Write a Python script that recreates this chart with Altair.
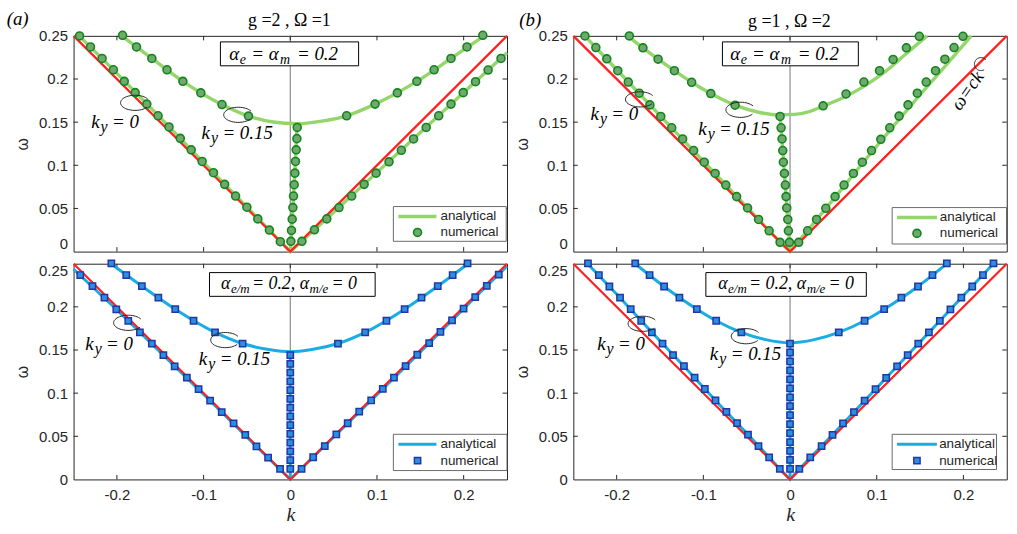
import math
import altair as alt
import pandas as pd

# ---------------------------------------------------------------- layout / style
PW, PH = 436, 217
INK = "#262626"
RED = "#ff2020"
ZERO_LINE = "#8c8c8c"
SERIF = "Liberation Serif"
SANS = "Liberation Sans"

K_TICKS = [-0.2, -0.1, 0.0, 0.1, 0.2]
W_TICKS = [0.0, 0.05, 0.10, 0.15, 0.20, 0.25]

# light cone  omega = c|k|
CONE_K = [-0.25, 0.0, 0.25]
CONE_W = [0.25, 0.0, 0.25]

# ---------------------------------------------------------------- (a) top: g=2, Omega=1, alpha_e = alpha_m = 0.2
A1_NUM0_K = [-0.2431, -0.2305, -0.2171, -0.2041, -0.1915, -0.1789, -0.1655, -0.1525, -0.1399, -0.1269,
             -0.1143, -0.1017, -0.0886, -0.0757, -0.0631, -0.0501, -0.0375, -0.0241, -0.0115,
             0.0134, 0.0279, 0.0421, 0.0562, 0.0708, 0.0852, 0.0990, 0.1139, 0.1281, 0.1422,
             0.1568, 0.1712, 0.1854, 0.1995, 0.2137, 0.2282, 0.2431]
A1_NUM0_W = [0.2499, 0.2372, 0.2238, 0.2107, 0.1973, 0.1842, 0.1709, 0.1574, 0.1444, 0.1312,
             0.1179, 0.1044, 0.0914, 0.0779, 0.0644, 0.0514, 0.0379, 0.0249, 0.0114,
             0.0119, 0.0252, 0.0379, 0.0510, 0.0644, 0.0779, 0.0909, 0.1040, 0.1174, 0.1305,
             0.1439, 0.1574, 0.1709, 0.1842, 0.1969, 0.2104, 0.2238]
A1_NUM15_K = [-0.1935, -0.1774, -0.1597, -0.1422, -0.1239, -0.1032, -0.0788, -0.0482,
              0.0650, 0.0978, 0.1235, 0.1460, 0.1659, 0.1854, 0.2038, 0.2221,
              0.0007, 0.0014, 0.0022, 0.0030, 0.0037, 0.0045, 0.0053, 0.0060, 0.0068, 0.0076, 0.0080]
A1_NUM15_W = [0.2507, 0.2372, 0.2238, 0.2107, 0.1973, 0.1839, 0.1704, 0.1570,
              0.1574, 0.1709, 0.1839, 0.1973, 0.2107, 0.2238, 0.2372, 0.2507,
              0.0119, 0.0245, 0.0376, 0.0510, 0.0644, 0.0775, 0.0909, 0.1044, 0.1179, 0.1309, 0.1439]
A1_ANA0_K = [-0.2435, -0.20, -0.15, -0.10, -0.05, -0.02, 0.0, 0.05, 0.10, 0.15, 0.20, 0.25]
A1_ANA0_W = [0.25, 0.2065, 0.1552, 0.1030, 0.0515, 0.0205, 0.0, 0.0455, 0.0918, 0.1380, 0.1843, 0.2305]
A1_ANA15_K = [-0.1945, -0.1597, -0.1239, -0.0788, -0.0482, -0.020, 0.008, 0.040, 0.065, 0.0978, 0.1460, 0.1854, 0.2235]
A1_ANA15_W = [0.25, 0.2238, 0.1973, 0.1704, 0.1570, 0.1502, 0.1482, 0.1518, 0.1574, 0.1709, 0.1973, 0.2238, 0.25]
A1_LOW_K = [0.0, 0.0007, 0.0045, 0.0080]
A1_LOW_W = [0.0, 0.0119, 0.0775, 0.1482]

# ---------------------------------------------------------------- (b) top: g=1, Omega=2, alpha_e = alpha_m = 0.2
B1_NUM0_K = [-0.2366, -0.2240, -0.2114, -0.1987, -0.1866, -0.1740, -0.1617, -0.1491, -0.1365, -0.1239,
             -0.1112, -0.0990, -0.0864, -0.0741, -0.0616, -0.0490, -0.0363, -0.0241, -0.0115,
             0.0100, 0.0203, 0.0306, 0.0413, 0.0520, 0.0623, 0.0731, 0.0834, 0.0940, 0.1047,
             0.1150, 0.1258, 0.1361, 0.1468, 0.1571, 0.1678, 0.1786, 0.1892, 0.1995]
B1_NUM0_W = [0.2499, 0.2365, 0.2234, 0.2096, 0.1965, 0.1835, 0.1700, 0.1566, 0.1435, 0.1305,
             0.1171, 0.1036, 0.0906, 0.0771, 0.0637, 0.0506, 0.0372, 0.0241, 0.0107,
             0.0107, 0.0241, 0.0372, 0.0502, 0.0637, 0.0771, 0.0906, 0.1036, 0.1171, 0.1301,
             0.1435, 0.1570, 0.1700, 0.1835, 0.1965, 0.2096, 0.2230, 0.2365, 0.2495]
B1_NUM15_K = [-0.1854, -0.1697, -0.1522, -0.1334, -0.1135, -0.0914, -0.0634,
              0.0382, 0.0646, 0.0852, 0.1032, 0.1189, 0.1342, 0.1491,
              -0.0007, -0.0019, -0.0026, -0.0038, -0.0046, -0.0054, -0.0065, -0.0077,
              -0.0084, -0.0092, -0.0103, -0.0115]
B1_NUM15_W = [0.2499, 0.2361, 0.2230, 0.2096, 0.1962, 0.1831, 0.1697,
              0.1689, 0.1827, 0.1965, 0.2096, 0.2227, 0.2361, 0.2495,
              0.0107, 0.0241, 0.0372, 0.0506, 0.0637, 0.0771, 0.0906, 0.1036,
              0.1171, 0.1305, 0.1435, 0.1566]
B1_ANA0_K = [-0.2368, -0.1987, -0.1491, -0.0990, -0.0490, -0.0115, 0.0, 0.0200, 0.0525, 0.0845,
             0.1065, 0.1290, 0.1515, 0.1745, 0.2090]
B1_ANA0_W = [0.25, 0.2096, 0.1566, 0.1036, 0.0506, 0.0107, 0.0, 0.0241, 0.0637, 0.1036,
             0.1301, 0.1570, 0.1835, 0.2096, 0.25]
B1_ANA15_K = [-0.1875, -0.1697, -0.1522, -0.1334, -0.1135, -0.0914, -0.0634, -0.0350, -0.0120,
              0.0050, 0.0222, 0.0382, 0.0646, 0.0852, 0.1032, 0.1189, 0.1342, 0.1580]
B1_ANA15_W = [0.25, 0.2361, 0.2230, 0.2096, 0.1962, 0.1831, 0.1697, 0.1612, 0.1585,
              0.1590, 0.1623, 0.1686, 0.1800, 0.1915, 0.2035, 0.2160, 0.2295, 0.25]
B1_LOW_K = [-0.0005, -0.0007, -0.0046, -0.0084, -0.0115, -0.0120]
B1_LOW_W = [0.0, 0.0107, 0.0637, 0.1171, 0.1566, 0.1585]

# ---------------------------------------------------------------- (a) bottom: alpha_e/m = 0.2, alpha_m/e = 0
A2_NUM0_K = [-0.2423, -0.2282, -0.2144, -0.2007, -0.1869, -0.1735, -0.1597, -0.1464, -0.1334,
             -0.1193, -0.1058, -0.0925, -0.0791, -0.0654, -0.0519, -0.0390, -0.0256, -0.0118,
             0.0130, 0.0264, 0.0398, 0.0531, 0.0662, 0.0795, 0.0933, 0.1067, 0.1196,
             0.1330, 0.1465, 0.1602, 0.1732, 0.1866, 0.1999, 0.2133, 0.2267, 0.2405]
A2_NUM0_W = [0.2369, 0.2240, 0.2106, 0.1972, 0.1838, 0.1704, 0.1575, 0.1440, 0.1311,
             0.1181, 0.1047, 0.0913, 0.0780, 0.0649, 0.0516, 0.0382, 0.0252, 0.0122,
             0.0122, 0.0257, 0.0387, 0.0521, 0.0651, 0.0785, 0.0915, 0.1049, 0.1179,
             0.1314, 0.1445, 0.1579, 0.1709, 0.1844, 0.1979, 0.2113, 0.2243, 0.2374]
A2_NUM15_K = [-0.2064, -0.1892, -0.1712, -0.1522, -0.1327, -0.1116, -0.0868, -0.0550,
              0.0550, 0.0864, 0.1109, 0.1319, 0.1514, 0.1701, 0.1873, 0.2045,
              0.0, 0.0, 0.0, 0.0, 0.0, 0.0, 0.0, 0.0, 0.0, 0.0, 0.0, 0.0, 0.0, 0.0]
A2_NUM15_W = [0.2503, 0.2369, 0.2240, 0.2106, 0.1973, 0.1839, 0.1705, 0.1575,
              0.1575, 0.1705, 0.1839, 0.1973, 0.2106, 0.2240, 0.2369, 0.2503,
              0.0122, 0.0223, 0.0325, 0.0426, 0.0528, 0.0629, 0.0730, 0.0832,
              0.0933, 0.1035, 0.1136, 0.1237, 0.1339, 0.1440]
A2_ANA0_K = [-0.25, -0.2007, -0.1464, -0.0925, -0.0390, 0.0, 0.0531, 0.1067, 0.1602, 0.2133, 0.25]
A2_ANA0_W = [0.2436, 0.1972, 0.1440, 0.0913, 0.0382, 0.0, 0.0521, 0.1049, 0.1579, 0.2113, 0.2470]
A2_ANA15_K = [-0.2070, -0.1712, -0.1327, -0.0868, -0.0550, -0.0250, 0.0, 0.0250, 0.0550, 0.0864, 0.1319, 0.1701, 0.2050]
A2_ANA15_W = [0.25, 0.2240, 0.1973, 0.1705, 0.1575, 0.1505, 0.1479, 0.1505, 0.1575, 0.1705, 0.1973, 0.2240, 0.25]
A2_LOW_K = [0.0, 0.0]
A2_LOW_W = [0.0, 0.1479]

# ---------------------------------------------------------------- (b) bottom: alpha_e/m = 0.2, alpha_m/e = 0
B2_NUM0_K = [-0.2331, -0.2205, -0.2084, -0.1961, -0.1838, -0.1717, -0.1594, -0.1471, -0.1350, -0.1224,
             -0.1101, -0.0983, -0.0860, -0.0734, -0.0611, -0.0485, -0.0364, -0.0241, -0.0118,
             0.0107, 0.0233, 0.0364, 0.0490, 0.0611, 0.0737, 0.0860, 0.0986, 0.1109, 0.1235,
             0.1357, 0.1479, 0.1602, 0.1728, 0.1850, 0.1976, 0.2102, 0.2225, 0.2347]
B2_NUM0_W = [0.2503, 0.2369, 0.2236, 0.2106, 0.1973, 0.1839, 0.1705, 0.1575, 0.1441, 0.1312,
             0.1181, 0.1048, 0.0915, 0.0783, 0.0653, 0.0520, 0.0385, 0.0256, 0.0122,
             0.0122, 0.0256, 0.0385, 0.0516, 0.0649, 0.0780, 0.0913, 0.1047, 0.1177, 0.1311,
             0.1440, 0.1575, 0.1704, 0.1838, 0.1972, 0.2106, 0.2236, 0.2369, 0.2503]
B2_NUM15_K = [-0.1786, -0.1620, -0.1453, -0.1276, -0.1075, -0.0852, -0.0562,
              0.0562, 0.0860, 0.1086, 0.1284, 0.1476, 0.1643, 0.1809,
              0.0, 0.0, 0.0, 0.0, 0.0, 0.0, 0.0, 0.0, 0.0, 0.0, 0.0, 0.0, 0.0, 0.0, 0.0]
B2_NUM15_W = [0.2503, 0.2369, 0.2236, 0.2106, 0.1973, 0.1839, 0.1704,
              0.1704, 0.1839, 0.1973, 0.2106, 0.2236, 0.2369, 0.2503,
              0.0122, 0.0226, 0.0330, 0.0433, 0.0537, 0.0641, 0.0745, 0.0849,
              0.0952, 0.1056, 0.1160, 0.1264, 0.1367, 0.1471, 0.1575]
B2_ANA0_K = [-0.2335, -0.1961, -0.1594, -0.1224, -0.0860, -0.0485, -0.0118, 0.0, 0.0107, 0.0490,
             0.0860, 0.1235, 0.1602, 0.1976, 0.2345]
B2_ANA0_W = [0.25, 0.2106, 0.1705, 0.1312, 0.0915, 0.0520, 0.0122, 0.0, 0.0122, 0.0516,
             0.0913, 0.1311, 0.1704, 0.2106, 0.25]
B2_ANA15_K = [-0.1786, -0.1453, -0.1075, -0.0852, -0.0562, -0.0280, 0.0, 0.0280, 0.0562, 0.0860, 0.1086, 0.1476, 0.1809]
B2_ANA15_W = [0.25, 0.2236, 0.1973, 0.1839, 0.1704, 0.1620, 0.1583, 0.1620, 0.1704, 0.1839, 0.1973, 0.2236, 0.25]
B2_LOW_K = [0.0, 0.0]
B2_LOW_W = [0.0, 0.1583]

GREEN = dict(line="#94d56c", lw=3.4, fill="#6fa870", edge="#12861a", shape="circle", size=64, sw=1.6)
BLUE = dict(line="#19ade3", lw=3.0, fill="#2a90dc", edge="#2336a8", shape="square", size=40, sw=1.5)


def arc_path(ry, a0, a1, n=40):
    """Open elliptical loop drawn as a custom symbol (unit half-width)."""
    pts = []
    for j in range(n + 1):
        t = math.radians(a0 + (a1 - a0) * j / n)
        pts.append(f"{math.cos(t):.3f},{ry * math.sin(t):.3f}")
    return "M" + " L".join(pts)


LOOP = arc_path(0.52, 35, 330)
SMALL_LOOP = arc_path(1.0, 60, 320)


def series(k, w, name):
    return pd.DataFrame({"k": k, "w": w, "s": name, "i": range(len(k))})


def encodings(bottom_row):
    xs = alt.Scale(domain=[-0.25, 0.25], nice=False, zero=False)
    ys = alt.Scale(domain=[0.0, 0.25], nice=False, zero=False)
    if bottom_row:
        xa = alt.Axis(values=K_TICKS, format="~g", labelExpr="replace(datum.label, '\u2212', '-')",
                      ticks=False, tickSize=0, domain=False, grid=False, labelPadding=8,
                      labelFont=SANS, labelFontSize=15, labelColor=INK,
                      title="k", titleFont=SERIF, titleFontStyle="italic", titleFontSize=20,
                      titleFontWeight="normal", titleColor=INK, titlePadding=2)
        off = {"condition": {"test": "datum.value === 0.25", "value": 7}, "value": 0}
    else:
        xa = None
        off = {"condition": {"test": "datum.value === 0", "value": -8.5}, "value": 0}
    ya = alt.Axis(values=W_TICKS, format="~g", ticks=False, tickSize=0, domain=False, grid=False,
                  labelPadding=6, labelFont=SANS, labelFontSize=15, labelColor=INK, labelOffset=off,
                  title="ω", titleFont=SANS, titleFontSize=16, titleFontWeight="normal",
                  titleColor=INK, titlePadding=8)
    return alt.X("k:Q", scale=xs, axis=xa), alt.Y("w:Q", scale=ys, axis=ya)


def text_parts(X, Y, k, w, parts, font=SERIF, style="italic", color="black"):
    d = pd.DataFrame({"k": [k], "w": [w]})
    out = []
    for txt, dx, dy, size in parts:
        out.append(alt.Chart(d).mark_text(text=txt, dx=dx, dy=dy, fontSize=size, font=font,
                                          fontStyle=style, align="left", baseline="alphabetic",
                                          color=color).encode(x=X, y=Y))
    return out


def ky_label(X, Y, k, w, value):
    return text_parts(X, Y, k, w, [("k", 0, 0, 19), ("y", 9.5, 4, 16), ("= " + value, 21, 0, 19)])


def panel(bottom_row, num0, num15, ana0, ana15, low, sty, ann):
    X, Y = encodings(bottom_row)
    L = []
    # k = 0 guide line
    L.append(alt.Chart(pd.DataFrame({"k": [0.0], "w": [0.0], "w2": [0.25]}))
             .mark_rule(color=ZERO_LINE, strokeWidth=1.2).encode(x=X, y=Y, y2="w2:Q"))
    # inward tick marks on all four sides
    kt = pd.DataFrame({"k": K_TICKS})
    wt = pd.DataFrame({"w": W_TICKS[1:-1]})
    for y0, y1 in [(0, 4.5), (PH, PH - 4.5)]:
        L.append(alt.Chart(kt).mark_rule(color=INK, strokeWidth=1)
                 .encode(x=X, y=alt.value(y0), y2=alt.value(y1)))
    for x0, x1 in [(0, 4.5), (PW, PW - 4.5)]:
        L.append(alt.Chart(wt).mark_rule(color=INK, strokeWidth=1)
                 .encode(y=Y, x=alt.value(x0), x2=alt.value(x1)))
    # analytical dispersion curves
    straight = pd.concat([series(*ana0, "ky0"), series(*low, "ky15low")])
    L.append(alt.Chart(straight).mark_line(color=sty["line"], strokeWidth=sty["lw"])
             .encode(x=X, y=Y, detail="s:N", order="i:Q"))
    L.append(alt.Chart(series(*ana15, "ky15")).mark_line(color=sty["line"], strokeWidth=sty["lw"],
                                                        interpolate="monotone")
             .encode(x=X, y=Y, order="i:Q"))
    # light cone
    L.append(alt.Chart(series(CONE_K, CONE_W, "cone")).mark_line(color=RED, strokeWidth=2.2)
             .encode(x=X, y=Y, order="i:Q"))
    # numerical points
    pts = pd.concat([series(*num0, "n0"), series(*num15, "n15")])
    L.append(alt.Chart(pts).mark_point(shape=sty["shape"], filled=True, fill=sty["fill"],
                                       stroke=sty["edge"], strokeWidth=sty["sw"],
                                       size=sty["size"], opacity=1).encode(x=X, y=Y))
    # loops marking the two branches
    lk, lw = zip(*ann["loops"])
    L.append(alt.Chart(pd.DataFrame({"k": lk, "w": lw}))
             .mark_point(shape=LOOP, size=860, filled=False, color=INK, strokeWidth=1, opacity=1)
             .encode(x=X, y=Y))
    L += ky_label(X, Y, *ann["ky0"], "0")
    L += ky_label(X, Y, *ann["ky15"], "0.15")
    # parameter box
    bk0, bk1, bw0, bw1 = ann["box"]
    L.append(alt.Chart(pd.DataFrame({"k": [bk0], "k2": [bk1], "w": [bw0], "w2": [bw1]}))
             .mark_rect(fill="white", stroke="black", strokeWidth=1)
             .encode(x=X, x2="k2:Q", y=Y, y2="w2:Q"))
    L += text_parts(X, Y, ann["box_text"][0], ann["box_text"][1], ann["box_parts"])
    # legend
    gk0, gk1, gw0, gw1 = ann["legend"]
    L.append(alt.Chart(pd.DataFrame({"k": [gk0], "k2": [gk1], "w": [gw0], "w2": [gw1]}))
             .mark_rect(fill="white", stroke="#5a5a5a", strokeWidth=0.9)
             .encode(x=X, x2="k2:Q", y=Y, y2="w2:Q"))
    sk0, sk1, sw_line, mk, sw_mark, tk = ann["legend_items"]
    L.append(alt.Chart(pd.DataFrame({"k": [sk0], "k2": [sk1], "w": [sw_line]}))
             .mark_rule(color=sty["line"], strokeWidth=sty["lw"]).encode(x=X, x2="k2:Q", y=Y))
    L.append(alt.Chart(pd.DataFrame({"k": [mk], "w": [sw_mark]}))
             .mark_point(shape=sty["shape"], filled=True, fill=sty["fill"], stroke=sty["edge"],
                         strokeWidth=sty["sw"], size=sty["size"], opacity=1).encode(x=X, y=Y))
    for txt, w in [("analytical", sw_line), ("numerical", sw_mark)]:
        L.append(alt.Chart(pd.DataFrame({"k": [tk], "w": [w]}))
                 .mark_text(text=txt, font=SANS, fontSize=13.5, color=INK, align="left", baseline="middle")
                 .encode(x=X, y=Y))
    # extra headings
    for e in ann.get("extra", []):
        d = pd.DataFrame({"k": [e["k"]], "w": [e["w"]]})
        L.append(alt.Chart(d).mark_text(text=e["text"], font=SERIF, fontSize=e["size"],
                                        fontStyle=e.get("style", "normal"), align=e.get("align", "center"),
                                        baseline=e.get("baseline", "alphabetic"), angle=e.get("angle", 0),
                                        color="black").encode(x=X, y=Y))
    for e in ann.get("small_loops", []):
        d = pd.DataFrame({"k": [e[0]], "w": [e[1]]})
        L.append(alt.Chart(d).mark_point(shape=SMALL_LOOP, size=170, filled=False, color=INK,
                                         strokeWidth=1, opacity=1).encode(x=X, y=Y))
    return alt.layer(*L).properties(width=PW, height=PH)


TOP_PARTS = [("α", 0, 0, 19), ("e", 10.5, 4, 14), ("= α", 22, 0, 19), ("m", 51, 4, 14), ("= 0.2", 68, 0, 19)]
BOT_PARTS = [("α", 0, 0, 18), ("e/m", 10, 4, 13), ("= 0.2, α", 31, 0, 18), ("m/e", 89, 4, 13), ("= 0", 111, 0, 18)]

a_top = panel(False, (A1_NUM0_K, A1_NUM0_W), (A1_NUM15_K, A1_NUM15_W), (A1_ANA0_K, A1_ANA0_W),
              (A1_ANA15_K, A1_ANA15_W), (A1_LOW_K, A1_LOW_W), GREEN, {
                  "loops": [(-0.179, 0.1724), (-0.0600, 0.1585)],
                  "ky0": (-0.2297, 0.1435), "ky15": (-0.1024, 0.1303),
                  "box": (-0.0806, 0.0788, 0.2153, 0.2430), "box_text": (-0.0703, 0.2225),
                  "box_parts": TOP_PARTS,
                  "legend": (0.1189, 0.2491, 0.0119, 0.0522),
                  "legend_items": (0.1247, 0.1686, 0.0407, 0.1468, 0.0222, 0.1732),
                  "extra": [
                      {"text": "(a)", "k": -0.3272, "w": 0.2699, "size": 19, "style": "italic",
                       "align": "left", "baseline": "middle"},
                      {"text": "g =2 , Ω =1", "k": -0.0010, "w": 0.2611, "size": 18},
                  ]})

b_top = panel(False, (B1_NUM0_K, B1_NUM0_W), (B1_NUM15_K, B1_NUM15_W), (B1_ANA0_K, B1_ANA0_W),
              (B1_ANA15_K, B1_ANA15_W), (B1_LOW_K, B1_LOW_W), GREEN, {
                  "loops": [(-0.1730, 0.1764), (-0.0572, 0.1643)],
                  "ky0": (-0.2302, 0.1528), "ky15": (-0.1059, 0.1355),
                  "box": (-0.0780, 0.0788, 0.2153, 0.2430), "box_text": (-0.0690, 0.2225),
                  "box_parts": TOP_PARTS,
                  "legend": (0.1178, 0.2497, 0.0088, 0.0510),
                  "legend_items": (0.1235, 0.1694, 0.0395, 0.1464, 0.0211, 0.1728),
                  "extra": [
                      {"text": "(b)", "k": -0.3123, "w": 0.2689, "size": 19, "style": "italic",
                       "align": "left", "baseline": "middle"},
                      {"text": "g =1 , Ω =2", "k": -0.0008, "w": 0.2602, "size": 18},
                      {"text": "ω=ck", "k": 0.2045, "w": 0.1865, "size": 19, "style": "italic",
                       "angle": 305, "baseline": "middle"},
                  ],
                  "small_loops": [(0.2202, 0.2173)]})

a_bot = panel(True, (A2_NUM0_K, A2_NUM0_W), (A2_NUM15_K, A2_NUM15_W), (A2_ANA0_K, A2_ANA0_W),
              (A2_ANA15_K, A2_ANA15_W), (A2_LOW_K, A2_LOW_W), BLUE, {
                  "loops": [(-0.1870, 0.1815), (-0.0750, 0.1615)],
                  "ky0": (-0.2366, 0.1498), "ky15": (-0.1055, 0.1326),
                  "box": (-0.0932, 0.0979, 0.2122, 0.2397), "box_text": (-0.0798, 0.2205),
                  "box_parts": BOT_PARTS,
                  "legend": (0.1189, 0.2500, 0.0103, 0.0523),
                  "legend_items": (0.1247, 0.1686, 0.0408, 0.1468, 0.0218, 0.1732)})

b_bot = panel(True, (B2_NUM0_K, B2_NUM0_W), (B2_NUM15_K, B2_NUM15_W), (B2_ANA0_K, B2_ANA0_W),
              (B2_ANA15_K, B2_ANA15_W), (B2_LOW_K, B2_LOW_W), BLUE, {
                  "loops": [(-0.1700, 0.1804), (-0.0510, 0.1660)],
                  "ky0": (-0.2225, 0.1498), "ky15": (-0.0925, 0.1383),
                  "box": (-0.0971, 0.0880, 0.2122, 0.2397), "box_text": (-0.0829, 0.2205),
                  "box_parts": BOT_PARTS,
                  "legend": (0.1178, 0.2382, 0.0115, 0.0523),
                  "legend_items": (0.1235, 0.1694, 0.0408, 0.1464, 0.0218, 0.1720)})

chart = (
    alt.concat(a_top, b_top, a_bot, b_bot, columns=2,
               spacing={"row": 12.2, "column": 66.7}, bounds="flush")
    .properties(padding={"left": 6, "top": 7.5, "right": 5, "bottom": 5}, background="white")
    .configure_view(stroke=INK, strokeWidth=1)
)

chart.save("out.html", embed_options={"renderer": "svg", "actions": False})
